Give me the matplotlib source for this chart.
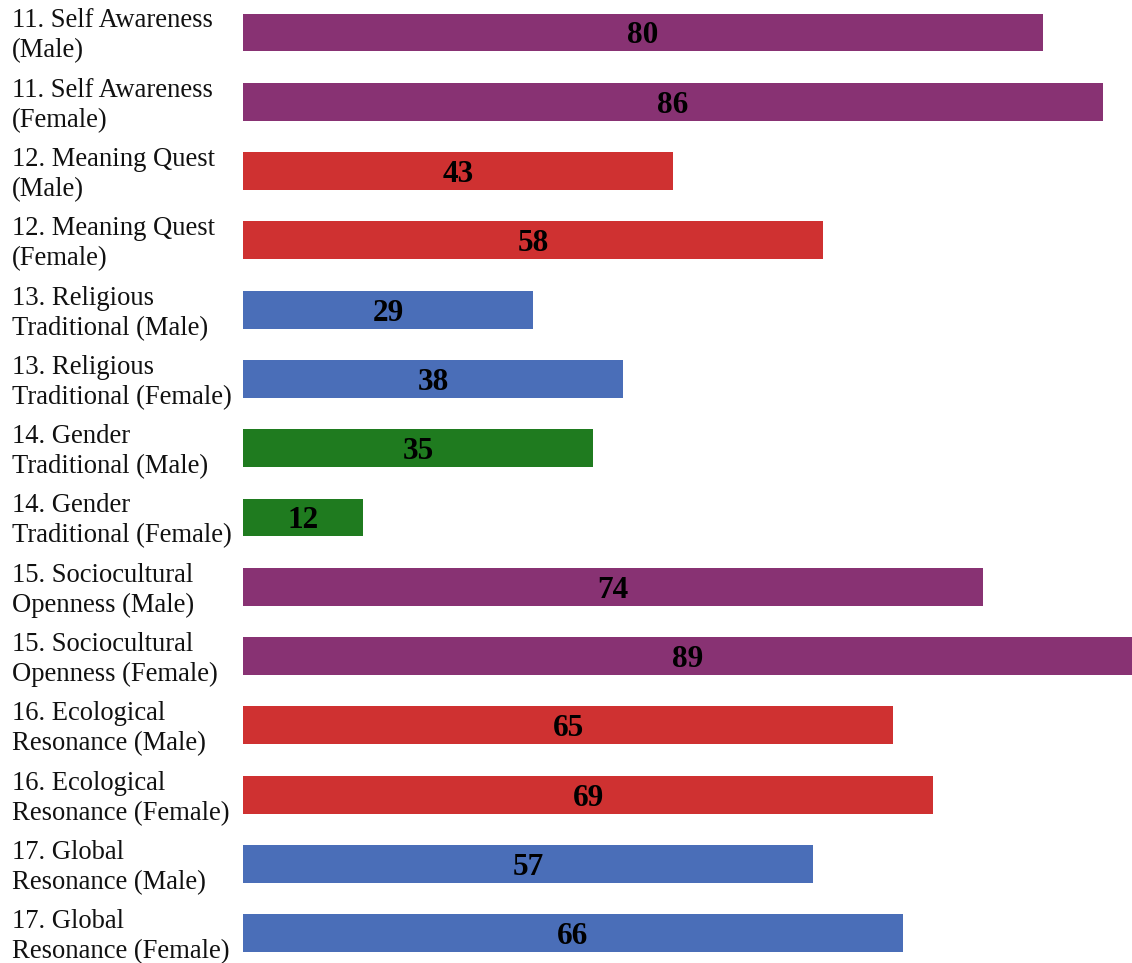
import matplotlib.pyplot as plt
from matplotlib.transforms import blended_transform_factory, offset_copy

labels = [
    "11. Self Awareness\n(Male)",
    "11. Self Awareness\n(Female)",
    "12. Meaning Quest\n(Male)",
    "12. Meaning Quest\n(Female)",
    "13. Religious\nTraditional (Male)",
    "13. Religious\nTraditional (Female)",
    "14. Gender\nTraditional (Male)",
    "14. Gender\nTraditional (Female)",
    "15. Sociocultural\nOpenness (Male)",
    "15. Sociocultural\nOpenness (Female)",
    "16. Ecological\nResonance (Male)",
    "16. Ecological\nResonance (Female)",
    "17. Global\nResonance (Male)",
    "17. Global\nResonance (Female)",
]
values = [80, 86, 43, 58, 29, 38, 35, 12, 74, 89, 65, 69, 57, 66]

purple = "#883273"
red = "#CF3131"
blue = "#4A6EB8"
green = "#1F7B1F"
colors = [purple, purple, red, red, blue, blue, green, green,
          purple, purple, red, red, blue, blue]

plt.rcParams['font.family'] = ['Liberation Serif', 'DejaVu Serif']

fig = plt.figure(figsize=(11.32, 9.63), dpi=100)
ax = fig.add_axes([243 / 1132, 0, 1 - 243 / 1132, 1])

pos = list(range(len(values)))
ax.barh(pos, values, height=0.545, color=colors)

# value labels in the middle of each bar
for i, v in enumerate(values):
    ax.text(v / 2, i, str(v), ha='center', va='center_baseline',
            fontsize=22.5, fontweight='bold', color='black')

# category labels at the left edge of the figure
trans = blended_transform_factory(fig.transFigure, ax.transData)
trans = offset_copy(trans, fig=fig, y=-3.5, units='dots')
for i, lab in enumerate(labels):
    ax.text(12 / 1132, i, lab, transform=trans, ha='left', va='center',
            fontsize=19.2, linespacing=1.27, color='#111111')

ax.set_xlim(0, 88.9)
ax.set_ylim(13.43, -0.469)
ax.axis('off')

fig.savefig("out.png", dpi=100)
